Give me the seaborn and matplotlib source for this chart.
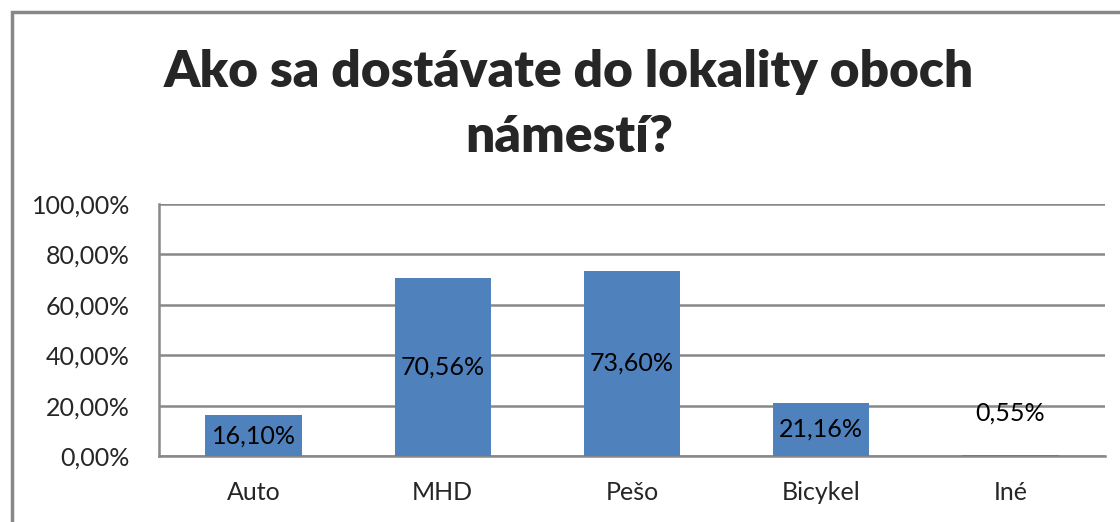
import seaborn as sns
import matplotlib.pyplot as plt
import pandas as pd
from matplotlib.patches import Rectangle

# data
kategorie = ['Auto', 'MHD', 'Pešo', 'Bicykel', 'Iné']
podiel = [0.1610, 0.7056, 0.7360, 0.2116, 0.0055]
y_ticks = [0.0, 0.2, 0.4, 0.6, 0.8, 1.0]

nadpis = 'Ako sa dostávate do lokality oboch\nnámestí?'


def pct(v):
    return f'{v * 100:.2f}'.replace('.', ',') + '%'


df = pd.DataFrame({'kat': kategorie, 'val': podiel})

sns.set_style('white')
plt.rcParams['font.family'] = ['Lato', 'DejaVu Sans']

fig = plt.figure(figsize=(11.2, 5.22), dpi=100)
ax = fig.add_axes([159 / 1120, 1 - 456 / 522, (1105 - 159) / 1120, (456 - 204) / 522])

sns.barplot(data=df, x='kat', y='val', color='#4F81BD', width=0.51,
            saturation=1, linewidth=0, ax=ax, zorder=3)

ax.set_ylim(0, 1)
ax.set_xlim(-0.5, len(kategorie) - 0.5)
ax.set_yticks(y_ticks)
ax.set_yticklabels([pct(t) for t in y_ticks], fontsize=18)
ax.tick_params(axis='y', length=9, width=1.8, color='#888888', pad=12)
ax.tick_params(axis='x', length=0, labelsize=18, pad=18)
ax.set_xlabel('')
ax.set_ylabel('')
ax.grid(axis='y', color='#888888', lw=1.8, zorder=0)
for s in ['top', 'right']:
    ax.spines[s].set_visible(False)
for s in ['left', 'bottom']:
    ax.spines[s].set_color('#888888')
    ax.spines[s].set_linewidth(1.8)

# value labels, centred in the bars (tiny bar: above it)
for i, v in enumerate(podiel):
    y = v / 2 if v > 0.05 else v + 0.165
    ax.text(i, y, pct(v), ha='center', va='center', fontsize=18, color='black', zorder=4)

fig.text(0.508, 0.80, nadpis, ha='center', va='center', fontsize=37,
         fontweight='heavy', linespacing=1.5)

# chart border
fig.patches.append(Rectangle((12 / 1120, -0.1), 1.2, 1 - 12 / 522 + 0.1,
                             transform=fig.transFigure, fill=False,
                             edgecolor='#888888', lw=2.5))

fig.savefig('out.png', dpi=100)
